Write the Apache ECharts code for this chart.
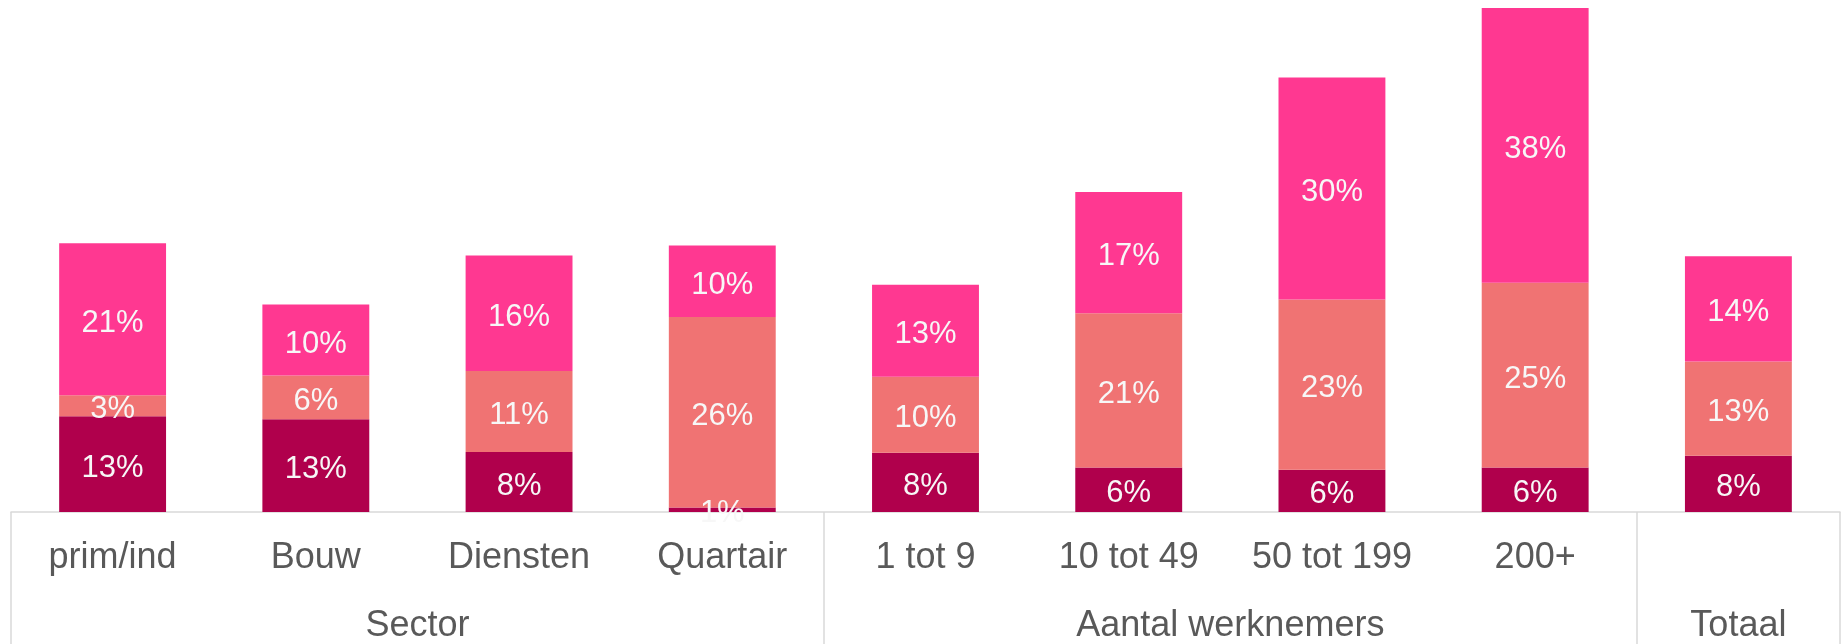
<!DOCTYPE html>
<html>
<head>
<meta charset="utf-8">
<script src="https://cdn.jsdelivr.net/npm/echarts@6/dist/echarts.min.js"></script>
<style>
  html, body { margin: 0; padding: 0; background: #fff; }
  #chart { width: 1846px; height: 644px; }
</style>
</head>
<body>
<div id="chart"></div>
<script>
const categories = ['prim/ind', 'Bouw', 'Diensten', 'Quartair', '1 tot 9', '10 tot 49', '50 tot 199', '200+', 'Totaal']
const groupNames = ['Sector', 'Aantal werknemers', 'Totaal']
const groupSizes = [4, 4, 1]

// stacked shares (%), bottom to top
const bottomVals = [13.1, 12.7, 8.2, 0.6, 8.1, 6.1, 5.8, 6.1, 7.7]
const middleVals = [2.9, 6.0, 11.1, 26.1, 10.4, 21.1, 23.3, 25.3, 12.9]
const topVals = [20.8, 9.7, 15.8, 9.8, 12.6, 16.6, 30.4, 37.6, 14.4]

const colors = ['#B0004C', '#F07373', '#FF3891']
const gray = '#595959'
const lineGray = '#D9D9D9'

// group boundaries (category index where each group starts) and label centres
const groupStarts = []
const groupCenters = []
let acc = 0
groupSizes.forEach(s => {
  groupStarts.push(acc)
  groupCenters.push(acc + s / 2)
  acc += s
})

const chart = echarts.init(document.getElementById('chart'))

function barSeries(data, color) {
  return {
    type: 'bar',
    stack: 'total',
    data: data,
    barWidth: '52.6%',
    itemStyle: { color: color },
    label: {
      show: true,
      position: 'inside',
      offset: [0, 4],
      color: '#F7F7F7',
      fontSize: 31,
      formatter: p => Math.round(p.value) + '%'
    }
  }
}

chart.setOption({
  animation: false,
  textStyle: { fontFamily: "'Liberation Sans', Arial, sans-serif" },
  grid: { left: 11, right: 6, top: 8, bottom: 132 },
  xAxis: [
    {
      type: 'category',
      data: categories,
      axisLine: { lineStyle: { color: lineGray, width: 1.5 } },
      axisTick: {
        show: true,
        length: 132,
        interval: i => groupStarts.includes(i),
        lineStyle: { color: lineGray, width: 1.5 }
      },
      axisLabel: {
        interval: 0,
        fontSize: 36,
        color: gray,
        margin: 28,
        // a group with a single bar only shows its group name
        formatter: v => groupNames.includes(v) ? '' : v
      }
    },
    {
      type: 'value',
      position: 'bottom',
      min: 0,
      max: categories.length,
      interval: 0.5,
      axisLine: { show: false },
      axisTick: { show: false },
      splitLine: { show: false },
      axisLabel: {
        fontSize: 36,
        color: gray,
        margin: 96,
        showMinLabel: true,
        showMaxLabel: true,
        formatter: v => {
          const k = groupCenters.indexOf(v)
          return k >= 0 ? groupNames[k] : ''
        }
      }
    }
  ],
  yAxis: { type: 'value', min: 0, max: 69, show: false },
  series: [
    barSeries(bottomVals, colors[0]),
    barSeries(middleVals, colors[1]),
    barSeries(topVals, colors[2])
  ]
})
</script>
</body>
</html>
